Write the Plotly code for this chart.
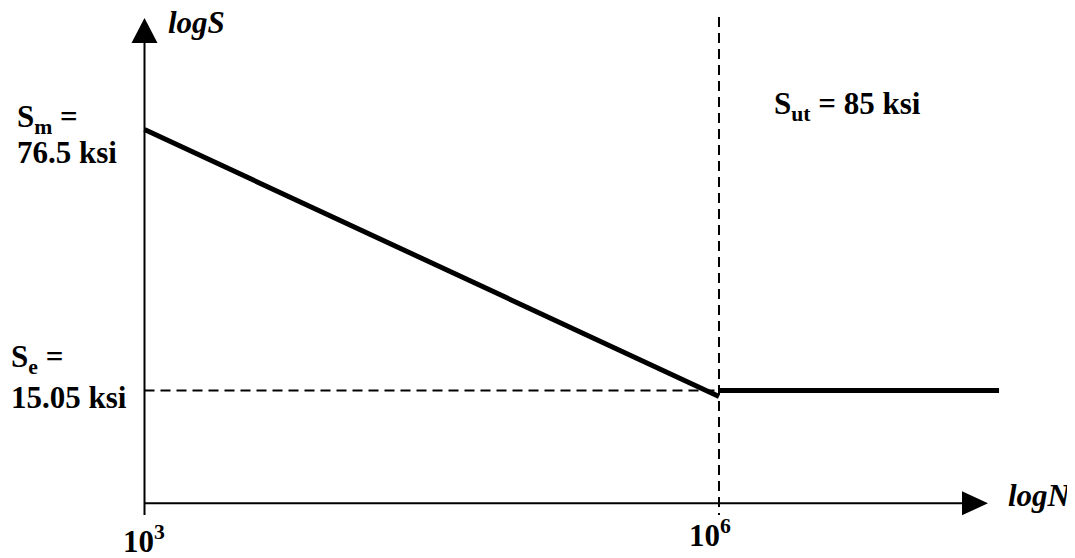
import numpy as np
import plotly.graph_objects as go

# ---- data (cycles N, stress S in ksi) ----
N_slope = [1e3, 1e6]
S_slope = [76.5, 14.5]
N_flat = [1e6, 2.9e7]
S_flat = [15.05, 15.05]
S_m = 76.5
S_e = 15.05
S_ut = 85
N_knee = 1e6
N_start = 1e3

# ---- window-pixel -> log-space helpers (layout only) ----
WIN_W, WIN_H = 1075, 558
OFF = 8  # default page body margin
W, H = WIN_W - OFF, WIN_H - OFF
PX_PER_DEC_X = 191.5
PX_PER_DEC_Y = 369.6
X0_PX, Y0_PX = 144.5, 129.5


def lx(px):
    return np.log10(N_start) + (px - X0_PX) / PX_PER_DEC_X


def ly(py):
    return np.log10(S_m) - (py - Y0_PX) / PX_PER_DEC_Y


FONT = "Liberation Serif"
FS = 31
fig = go.Figure()

# y axis line
fig.add_trace(go.Scatter(x=[np.log10(N_start)] * 2, y=[ly(515), ly(40)], mode="lines",
                         line=dict(color="black", width=2), hoverinfo="skip"))
# x axis line
fig.add_trace(go.Scatter(x=[np.log10(N_start), lx(965)], y=[ly(503.3)] * 2, mode="lines",
                         line=dict(color="black", width=2), hoverinfo="skip"))
# dashed guides
fig.add_trace(go.Scatter(x=[np.log10(N_knee)] * 2, y=[ly(17), ly(515)], mode="lines",
                         line=dict(color="black", width=2, dash="10px,6px"), hoverinfo="skip"))
fig.add_trace(go.Scatter(x=[np.log10(N_start), np.log10(N_knee)], y=[np.log10(S_e)] * 2, mode="lines",
                         line=dict(color="black", width=2, dash="10px,6px"), hoverinfo="skip"))
# S-N curve
fig.add_trace(go.Scatter(x=np.log10(N_slope), y=np.log10(S_slope), mode="lines",
                         line=dict(color="black", width=5), hoverinfo="skip"))
fig.add_trace(go.Scatter(x=np.log10(N_flat), y=np.log10(S_flat), mode="lines",
                         line=dict(color="black", width=5), hoverinfo="skip"))

shapes = [
    dict(type="path", xref="x", yref="y", xsizemode="pixel", ysizemode="pixel",
         xanchor=np.log10(N_start), yanchor=ly(18),
         path="M0,0 L-13,-25 L13,-25 Z", fillcolor="black", line=dict(width=0)),
    dict(type="path", xref="x", yref="y", xsizemode="pixel", ysizemode="pixel",
         xanchor=lx(988), yanchor=ly(503.3),
         path="M0,0 L-26,12 L-26,-12 Z", fillcolor="black", line=dict(width=0)),
]


def ann(text, px, py, italic=False):
    t = f"<b><i>{text}</i></b>" if italic else f"<b>{text}</b>"
    return dict(text=t, x=lx(px), y=ly(py), xref="x", yref="y", xanchor="left", yanchor="middle",
                showarrow=False, font=dict(family=FONT, size=FS, color="black"), align="left",
                borderpad=0)


annotations = [
    ann("logS", 167, 22, italic=True),
    ann("logN", 1007, 495, italic=True),
    ann("S<sub>m</sub> =", 16, 119),
    ann(f"{S_m} ksi", 16, 152),
    ann("S<sub>e</sub> =", 10, 359),
    ann(f"{S_e} ksi", 10, 397),
    ann(f"S<sub>ut</sub> = {S_ut} ksi", 773, 106),
    ann("10<sup>3</sup>", 122, 539),
    ann("10<sup>6</sup>", 688, 533),
]

fig.update_layout(
    width=W, height=H, margin=dict(l=0, r=0, t=0, b=0),
    paper_bgcolor="white", plot_bgcolor="white", showlegend=False,
    xaxis=dict(range=[lx(OFF), lx(OFF + W)], visible=False, fixedrange=True),
    yaxis=dict(range=[ly(OFF + H), ly(OFF)], visible=False, fixedrange=True),
    shapes=shapes, annotations=annotations,
)

fig.write_html("out.html")
